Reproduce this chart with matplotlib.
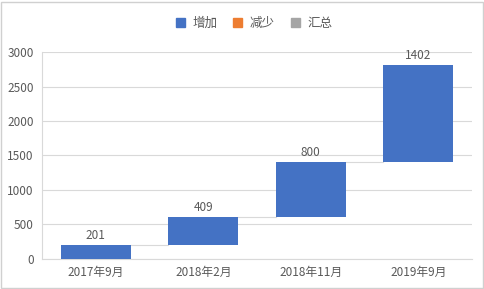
import matplotlib
matplotlib.use('Agg')
import matplotlib.pyplot as plt
from matplotlib.patches import Patch
import numpy as np

plt.rcParams['font.family'] = ['Noto Sans CJK SC', 'DejaVu Sans']

# 数据
categories = ['2017年9月', '2018年2月', '2018年11月', '2019年9月']
increase = [201, 409, 800, 1402]
yticks = [0, 500, 1000, 1500, 2000, 2500, 3000]

BLUE = '#4472c4'
ORANGE = '#ed7d31'
GRAYL = '#a5a5a5'
TXT = '#595959'
GRID = '#d9d9d9'

base = np.concatenate([[0], np.cumsum(increase)[:-1]])
top = base + np.array(increase)
x = np.arange(len(categories))
w = 0.65

fig = plt.figure(figsize=(4.84, 2.89), dpi=100)
fig.patch.set_facecolor('white')
ax = fig.add_axes([0.087, 0.104, 0.888, 0.716])

ax.bar(x, increase, bottom=base, width=w, color=BLUE, zorder=3)

# 连接线
for i in range(len(x) - 1):
    ax.plot([x[i] + w / 2, x[i + 1] - w / 2], [top[i], top[i]],
            color=GRID, lw=0.8, zorder=2)

for xi, t, v in zip(x, top, increase):
    ax.text(xi, t + 40, str(v), ha='center', va='bottom', fontsize=8.5, color=TXT)

ax.set_xlim(-0.5, len(categories) - 0.5)
ax.set_ylim(0, 3000)
ax.set_yticks(yticks)
ax.set_xticks(x)
ax.set_xticklabels(categories)
ax.tick_params(axis='both', length=0, labelsize=8.5, colors=TXT)
ax.tick_params(axis='y', pad=6)
ax.tick_params(axis='x', pad=5)
ax.grid(axis='y', color=GRID, lw=0.8, zorder=0)
ax.set_axisbelow(True)
for s in ['top', 'right']:
    ax.spines[s].set_visible(False)
ax.spines['left'].set_color(GRID)
ax.spines['bottom'].set_color(GRID)

handles = [Patch(color=BLUE, label='增加'), Patch(color=ORANGE, label='减少'),
           Patch(color=GRAYL, label='汇总')]
fig.legend(handles=handles, loc='center', bbox_to_anchor=(0.525, 0.92), ncol=3,
           frameon=False, fontsize=9, handlelength=0.7, handleheight=0.7,
           handletextpad=0.6, columnspacing=1.3, labelcolor=TXT)

# 外框
fig.add_artist(plt.Rectangle((0.002, 0.004), 0.995, 0.99, transform=fig.transFigure,
                             fill=False, edgecolor='#d0d0d0', lw=1))

fig.savefig('out.png', dpi=100)
